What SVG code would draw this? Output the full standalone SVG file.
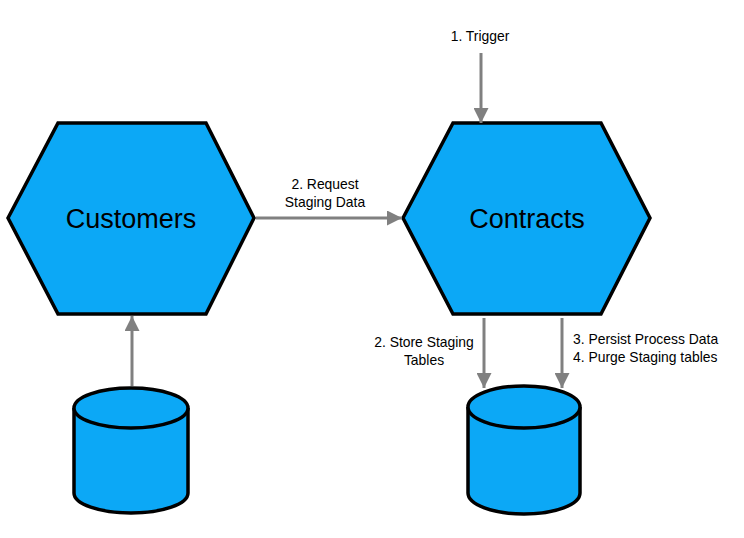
<svg xmlns="http://www.w3.org/2000/svg" width="744" height="538" viewBox="0 0 744 538">
<style>
.shape{fill:#0CA8F6;stroke:#000;stroke-width:3.5;stroke-linejoin:miter}
.big{font-family:"Liberation Sans",Arial,sans-serif;font-size:27px;fill:#000;text-anchor:middle}
.lbl{font-family:"Liberation Sans",Arial,sans-serif;font-size:13.9px;fill:#000}
.conn{stroke:#808080;stroke-width:3;fill:none}
</style>
<defs>
<marker id="arr" viewBox="0 0 10 10" refX="10" refY="5" markerWidth="5" markerHeight="5" orient="auto" markerUnits="strokeWidth">
<path d="M0,0 L10,5 L0,10 Z" fill="#808080"/>
</marker>
</defs>
<rect width="744" height="538" fill="#fff"/>
<g id="customers">
<polygon class="shape" points="8,218 58,123 206,123 254,218 206,314 58,314"/>
<text class="big" x="131" y="228">Customers</text>
</g>
<g id="contracts">
<polygon class="shape" points="403,218 453,123 601,123 650,218 601,314 453,314"/>
<text class="big" x="527" y="228">Contracts</text>
</g>
<g id="customers-db">
<path class="shape" d="M74,408 L74,493 A57,20 0 0 0 188,493 L188,408"/>
<ellipse class="shape" cx="131" cy="408" rx="57" ry="20"/>
</g>
<g id="contracts-db">
<path class="shape" d="M468,407 L468,493 A56,21 0 0 0 580,493 L580,407"/>
<ellipse class="shape" cx="524" cy="407" rx="56" ry="21"/>
</g>
<g id="connectors">
<line class="conn" x1="481" y1="53" x2="481" y2="123" marker-end="url(#arr)"/>
<line class="conn" x1="256" y1="218" x2="402" y2="218" marker-end="url(#arr)"/>
<line class="conn" x1="132" y1="386" x2="132" y2="316" marker-end="url(#arr)"/>
<line class="conn" x1="484" y1="318" x2="484" y2="388" marker-end="url(#arr)"/>
<line class="conn" x1="562" y1="318" x2="562" y2="388" marker-end="url(#arr)"/>
</g>
<g id="labels">
<text class="lbl" x="480" y="41" text-anchor="middle">1. Trigger</text>
<text class="lbl" x="325" y="189" text-anchor="middle">2. Request</text>
<text class="lbl" x="325" y="207" text-anchor="middle">Staging Data</text>
<text class="lbl" x="424" y="347" text-anchor="middle">2. Store Staging</text>
<text class="lbl" x="424" y="365" text-anchor="middle">Tables</text>
<text class="lbl" x="573" y="344">3. Persist Process Data</text>
<text class="lbl" x="573" y="362">4. Purge Staging tables</text>
</g>
</svg>
